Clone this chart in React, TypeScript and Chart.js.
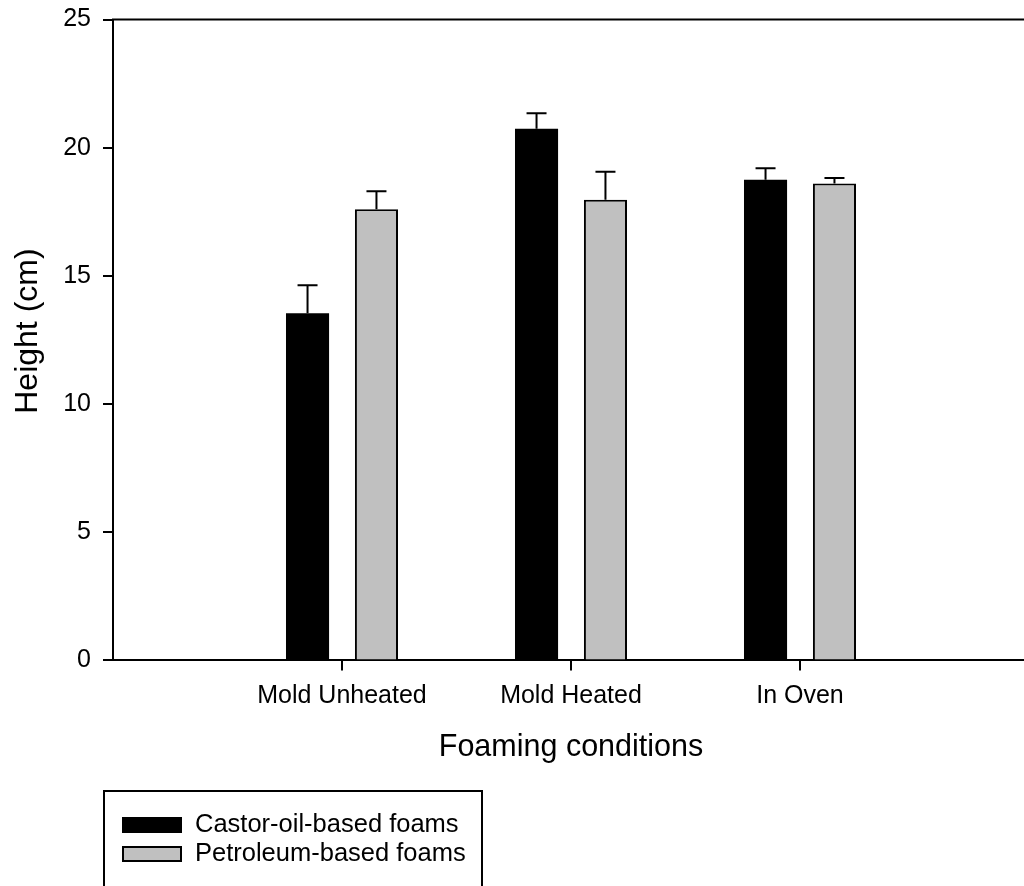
import React, { useEffect, useRef } from "react";
import { Chart, registerables } from "chart.js";

Chart.register(...registerables);

const categories = ["Mold Unheated", "Mold Heated", "In Oven"];
const castorValues = [13.54, 20.74, 18.75];
const castorErrors = [1.09, 0.6, 0.45];
const petroleumValues = [17.6, 17.97, 18.6];
const petroleumErrors = [0.7, 1.09, 0.22];
const yTicks = [0, 5, 10, 15, 20, 25];
const seriesNames = ["Castor-oil-based foams", "Petroleum-based foams"];
const seriesColors = ["#000000", "#c0c0c0"];

const FONT = "'Liberation Sans', Arial, sans-serif";

const labels = ["", ...categories, ""];
const pad = (arr: number[]) => [null, ...arr, null];

const errorBarPlugin = {
  id: "errorBars",
  afterDatasetsDraw(chart: any) {
    const { ctx } = chart;
    const yScale = chart.scales.y;
    chart.data.datasets.forEach((ds: any, di: number) => {
      const meta = chart.getDatasetMeta(di);
      const errs = ds.errors as (number | null)[];
      meta.data.forEach((bar: any, i: number) => {
        const v = ds.data[i];
        const e = errs[i];
        if (v == null || e == null) return;
        const yTop = yScale.getPixelForValue(v + e);
        const yBase = yScale.getPixelForValue(v);
        ctx.save();
        ctx.strokeStyle = "#000";
        ctx.lineWidth = 2;
        ctx.beginPath();
        ctx.moveTo(bar.x, yBase);
        ctx.lineTo(bar.x, yTop);
        ctx.moveTo(bar.x - 10, yTop);
        ctx.lineTo(bar.x + 10, yTop);
        ctx.stroke();
        ctx.restore();
      });
    });
  },
};

const framePlugin = {
  id: "frameAndLegend",
  afterDraw(chart: any) {
    const { ctx, chartArea } = chart;
    ctx.save();
    ctx.strokeStyle = "#000";
    ctx.lineWidth = 2;
    ctx.beginPath();
    ctx.moveTo(chartArea.left - 1, chartArea.top);
    ctx.lineTo(chartArea.right, chartArea.top);
    ctx.stroke();

    // legend box
    ctx.strokeRect(104, 791, 378, 120);
    const rows = [825, 854];
    seriesNames.forEach((name, i) => {
      const cy = rows[i];
      ctx.fillStyle = seriesColors[i];
      ctx.fillRect(122, cy - 8, 60, 16);
      if (i === 1) {
        ctx.lineWidth = 2;
        ctx.strokeStyle = "#000";
        ctx.strokeRect(123, cy - 7, 58, 14);
      }
      ctx.fillStyle = "#000";
      ctx.font = `25.5px ${FONT}`;
      ctx.textBaseline = "middle";
      ctx.textAlign = "left";
      ctx.fillText(name, 195, cy);
    });
    ctx.restore();
  },
};

export default function App() {
  const ref = useRef<HTMLCanvasElement | null>(null);

  useEffect(() => {
    if (!ref.current) return;
    const chart = new Chart(ref.current, {
      type: "bar",
      data: {
        labels,
        datasets: [
          {
            label: seriesNames[0],
            data: pad(castorValues),
            errors: pad(castorErrors),
            backgroundColor: seriesColors[0],
            borderColor: "#000",
            borderWidth: 0,
            categoryPercentage: 0.602,
            barPercentage: 0.625,
          } as any,
          {
            label: seriesNames[1],
            data: pad(petroleumValues),
            errors: pad(petroleumErrors),
            backgroundColor: seriesColors[1],
            borderColor: "#000",
            borderWidth: 2,
            categoryPercentage: 0.602,
            barPercentage: 0.625,
          } as any,
        ],
      },
      options: {
        responsive: false,
        animation: false,
        devicePixelRatio: 1,
        layout: { padding: { left: 0, top: 19.5, right: 11, bottom: 120.6 } },
        plugins: {
          legend: { display: false },
          tooltip: { enabled: false },
        },
        scales: {
          x: {
            type: "category",
            offset: false,
            grid: {
              display: true,
              drawOnChartArea: false,
              drawTicks: true,
              tickLength: 10,
              color: "#000",
              tickColor: (c: any) =>
                c.index === 0 || c.index === labels.length - 1 ? "rgba(0,0,0,0)" : "#000",
              lineWidth: 2,
              offset: false,
            },
            border: { display: true, color: "#000", width: 2 },
            ticks: {
              color: "#000",
              font: { family: FONT, size: 25, lineHeight: 1.2 },
              padding: 11,
              maxRotation: 0,
              autoSkip: false,
            },
            title: {
              display: true,
              text: "Foaming conditions",
              color: "#000",
              font: { family: FONT, size: 30.5, lineHeight: 1.2 },
              padding: { top: 0, bottom: 0 },
            },
            afterFit: (s: any) => {
              s.height = 105;
              s.paddingLeft = 0;
              s.paddingRight = 0;
            },
          },
          y: {
            min: 0,
            max: 25,
            afterBuildTicks: (s: any) => {
              s.ticks = yTicks.map((v) => ({ value: v }));
            },
            grid: {
              display: true,
              drawOnChartArea: false,
              drawTicks: true,
              tickLength: 10,
              color: "#000",
              lineWidth: 2,
            },
            border: { display: true, color: "#000", width: 2 },
            ticks: {
              color: "#000",
              font: { family: FONT, size: 25, lineHeight: 1.2 },
              padding: 12,
            },
            title: {
              display: true,
              text: "  Height (cm)",
              color: "#000",
              font: { family: FONT, size: 32, lineHeight: 1.2 },
              padding: { top: 8.5, bottom: 0 },
            },
            afterFit: (s: any) => {
              s.width = 113;
              s.paddingTop = 0;
              s.paddingBottom = 0;
            },
          },
        },
      },
      plugins: [errorBarPlugin, framePlugin],
    });
    return () => chart.destroy();
  }, []);

  return (
    <div
      style={{
        position: "absolute",
        left: 0,
        top: 0,
        width: 1024,
        height: 886,
        overflow: "hidden",
        background: "#fff",
      }}
    >
      <canvas ref={ref} width={1040} height={886} style={{ display: "block" }} />
    </div>
  );
}
